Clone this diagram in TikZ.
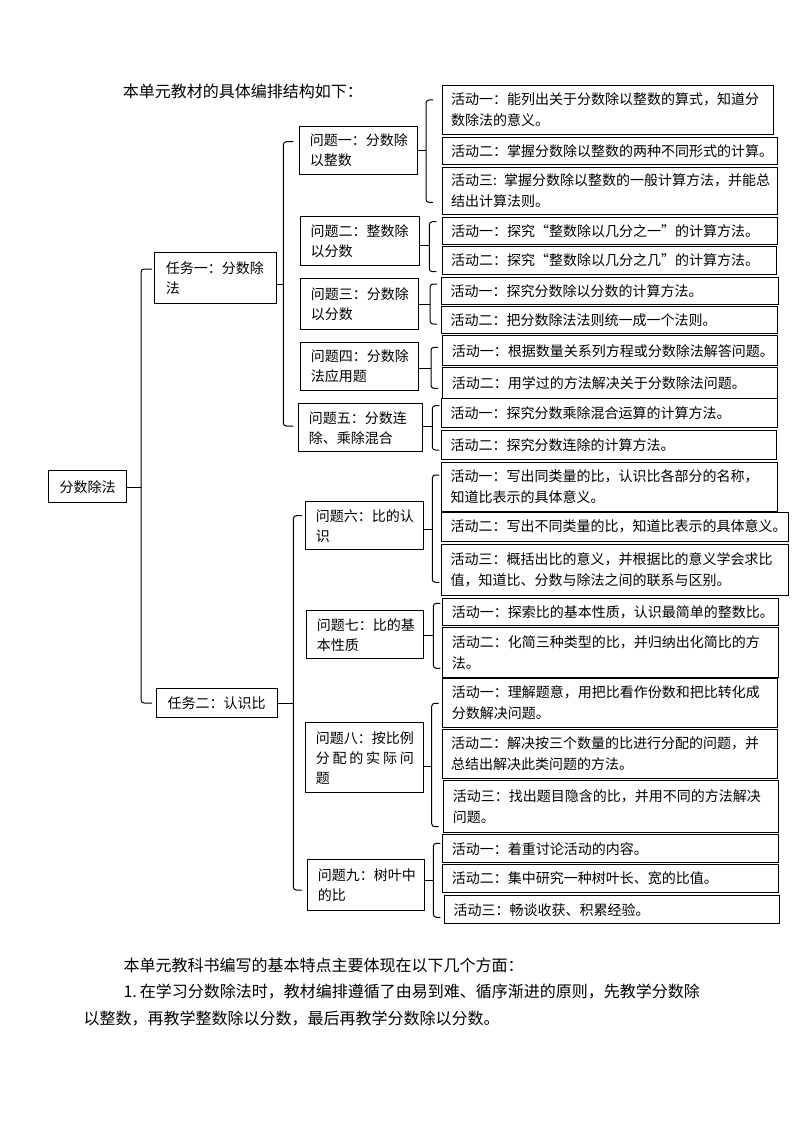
\documentclass[tikz,border=0pt]{standalone}
\usepackage{fontspec}
\setmainfont{Noto Sans CJK SC}
\newcommand\mybox[8]{% #1 style, #2 pad, #3 name, #4 x1, #5 y1, #6 x2, #7 y2, #8 text
  \pgfmathsetmacro\bw{#6-#4}\pgfmathsetmacro\bh{#7-#5}\pgfmathsetmacro\tw{#6-#4-2*#2}%
  \node[box,#1,inner xsep=#2pt,minimum width=\bw pt,minimum height=\bh pt,text width=\tw pt] (#3) at (#4,#5) {#8};}
\newcommand\mybrk[7]{% #1 name, #2 parent, #3 x, #4 top, #5 mid, #6 bot, #7 hook
  \coordinate (#1) at (#3,#5);
  \draw[brk] ({#3+#7},#4) -- (#3,#4) -- (#3,#6) -- ({#3+#7},#6);
  \draw[brk] (#2.east |- #1) -- (#1);}
\begin{document}
\begin{tikzpicture}[x=1pt,y=-1pt,
  box/.style={draw,line width=1pt,anchor=north west,inner ysep=0pt,align=left,
    font=\fontsize{14}{20}\selectfont},
  act/.style={font=\fontsize{14}{21}\selectfont},
  brk/.style={line width=1pt,rounded corners=3pt},
  para/.style={anchor=west,inner sep=0pt,font=\fontsize{16}{20}\selectfont}]
\useasboundingbox (0,0) rectangle (794,1123);
\fill[white] (0,0) rectangle (794,1123);

\node[para] (title) at (122.7,91.7) {本单元教材的具体编排结构如下：};

% root and tasks
\mybox{align=center}{4}{root}{48.3}{470}{125.7}{502.3}{分数除法}
\mybox{}{11}{t1}{154.3}{252.3}{275.7}{303.3}{任务一：分数除\\法}
\mybox{}{11}{t2}{156}{687.7}{277.3}{717.3}{任务二：认识比}

% problems
\mybox{}{10}{p1}{299.3}{125.7}{416.7}{174.3}{问题一：分数除\\以整数}
\mybox{}{10}{p2}{300}{216}{418.7}{265}{问题二：整数除\\以分数}
\mybox{}{10}{p3}{300.3}{278.3}{417.7}{329.3}{问题三：分数除\\以分数}
\mybox{}{10}{p4}{300.3}{342}{417.7}{390}{问题四：分数除\\法应用题}
\mybox{}{10}{p5}{298.3}{403.3}{422.3}{451.3}{问题五：分数连\\除、乘除混合}
\mybox{}{10}{p6}{305.3}{501.3}{423.3}{549.3}{问题六：比的认\\识}
\mybox{}{10}{p7}{306.3}{610.3}{423.3}{658.3}{问题七：比的基\\本性质}
\mybox{}{10}{p8}{305.3}{722.3}{422.7}{792.3}{问题八：按比例\\\makebox[98pt][s]{分\hfill 配\hfill 的\hfill 实\hfill 际\hfill 问}\\题}
\mybox{}{10}{p9}{307.3}{859.3}{424.3}{910}{问题九：树叶中\\的比}

% activities
\mybox{act}{9}{a11}{441.7}{85}{773.3}{134.3}{活动一：能列出关于分数除以整数的算式，知道分\\数除法的意义。}
\mybox{act}{9}{a12}{441.7}{136.7}{776.7}{164}{活动二：掌握分数除以整数的两种不同形式的计算。}
\mybox{act}{9}{a13}{441.7}{166.7}{776.7}{214.3}{活动三: 掌握分数除以整数的一般计算方法，并能总\\结出计算法则。}
\mybox{act}{9}{a21}{441.7}{216.7}{776.7}{244.3}{活动一：探究“整数除以几分之一”的计算方法。}
\mybox{act}{9}{a22}{441.7}{246}{775.7}{274}{活动二：探究“整数除以几分之几”的计算方法。}
\mybox{act}{9}{a31}{441}{277.3}{777.7}{304}{活动一：探究分数除以分数的计算方法。}
\mybox{act}{9}{a32}{441}{306}{776.7}{333.3}{活动二：把分数除法法则统一成一个法则。}
\mybox{act}{9}{a41}{442.3}{335.3}{776.7}{365.3}{活动一：根据数量关系列方程或分数除法解答问题。}
\mybox{act}{9}{a42}{442.3}{367.3}{776.7}{397.7}{活动二：用学过的方法解决关于分数除法问题。}
\mybox{act}{9}{a51}{441}{398.3}{776.7}{427.3}{活动一：探究分数乘除混合运算的计算方法。}
\mybox{act}{9}{a52}{441}{430}{775.7}{459}{活动二：探究分数连除的计算方法。}
\mybox{act}{9}{a61}{441}{461.7}{776.7}{510.7}{活动一：写出同类量的比，认识比各部分的名称，\\知道比表示的具体意义。}
\mybox{act}{9}{a62}{441}{511.7}{788.3}{540.7}{活动二：写出不同类量的比，知道比表示的具体意义。}
\mybox{act}{9}{a63}{441}{544.3}{788.3}{595}{活动三：概括出比的意义，并根据比的意义学会求比\\值，知道比、分数与除法之间的联系与区别。}
\mybox{act}{9}{a71}{442.3}{597.7}{777.7}{625}{活动一：探索比的基本性质，认识最简单的整数比。}
\mybox{act}{9}{a72}{442.3}{627.3}{777.7}{676.7}{活动二：化简三种类型的比，并归纳出化简比的方\\法。}
\mybox{act}{9}{a81}{442.3}{678.3}{776.7}{726.7}{活动一：理解题意，用把比看作份数和把比转化成\\分数解决问题。}
\mybox{act}{9}{a82}{441.7}{729}{776.7}{778.3}{活动二：解决按三个数量的比进行分配的问题，并\\总结出解决此类问题的方法。}
\mybox{act}{9}{a83}{443.3}{780}{777.7}{831.7}{活动三：找出题目隐含的比，并用不同的方法解决\\问题。}
\mybox{act}{9}{a91}{442.3}{834}{777.7}{862.3}{活动一：着重讨论活动的内容。}
\mybox{act}{9}{a92}{442.3}{864}{777.7}{892.3}{活动二：集中研究一种树叶长、宽的比值。}
\mybox{act}{9}{a93}{444}{895}{779}{923.3}{活动三：畅谈收获、积累经验。}

% brackets
\mybrk{r0}{root}{141}{269}{487}{703}{11}
\mybrk{t1b}{t1}{283.3}{141.7}{284}{426}{10}
\mybrk{t2b}{t2}{293.3}{515.7}{703.3}{890}{8.5}
\mybrk{p1b}{p1}{426}{100}{150.7}{202.3}{7}
\mybrk{p2b}{p2}{429.3}{221.7}{245.7}{271.7}{7}
\mybrk{p3b}{p3}{430}{284}{304}{324}{7}
\mybrk{p4b}{p4}{431}{347.3}{368.3}{388.3}{7}
\mybrk{p5b}{p5}{432.3}{405.7}{426.7}{450}{7}
\mybrk{p6b}{p6}{432.3}{475}{529}{582.3}{7}
\mybrk{p7b}{p7}{433.3}{603.3}{635.7}{668.3}{7}
\mybrk{p8b}{p8}{431.7}{703.3}{766}{826.7}{7}
\mybrk{p9b}{p9}{433.3}{843.3}{880}{917.3}{7}

% text below
\node[para] (l1) at (123.3,965) {本单元教科书编写的基本特点主要体现在以下几个方面：};
\node[para] (l2) at (123.3,991.7) {1.\hspace{3pt}在学习分数除法时，教材编排遵循了由易到难、循序渐进的原则，先教学分数除};
\node[para] (l3) at (83.3,1018.3) {以整数，再教学整数除以分数，最后再教学分数除以分数。};
\end{tikzpicture}
\end{document}
